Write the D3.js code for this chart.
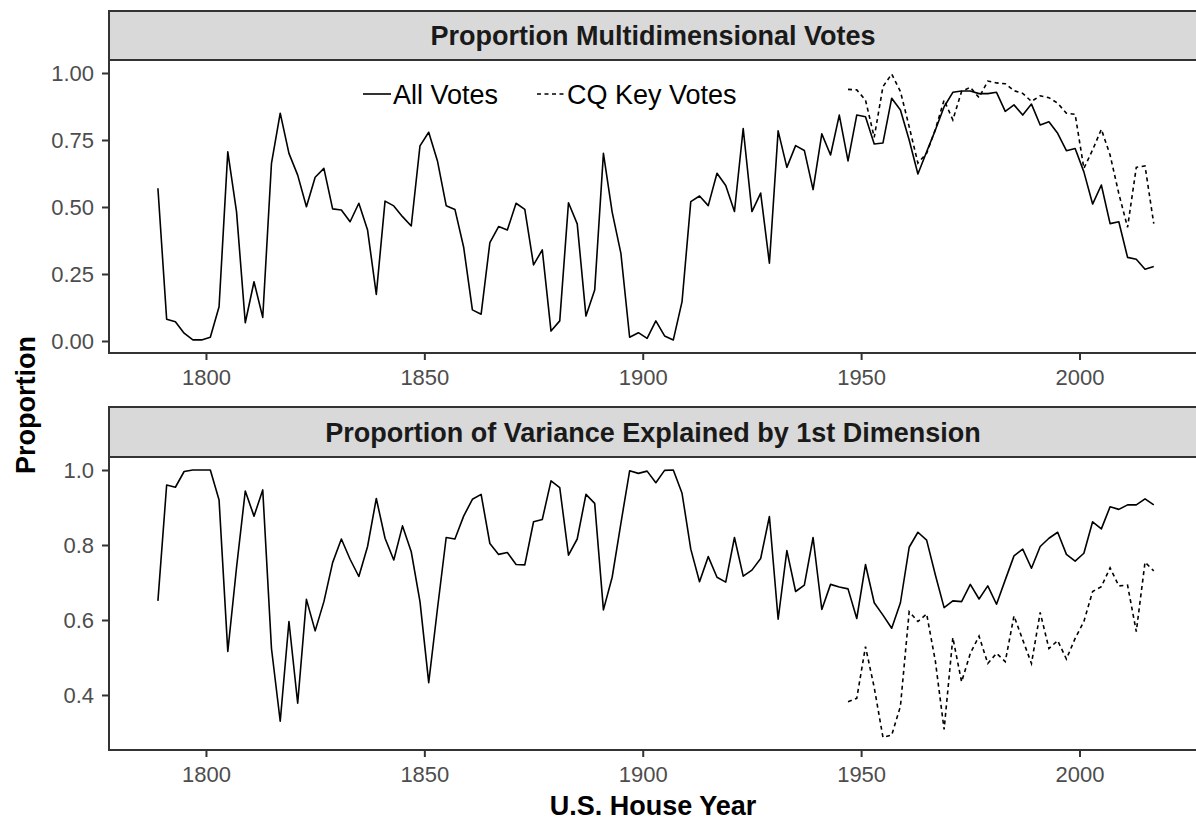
<!DOCTYPE html>
<html><head><meta charset="utf-8">
<script src="https://cdn.jsdelivr.net/npm/d3@7"></script>
<style>
html,body{margin:0;padding:0;background:#fff;}
svg{display:block;font-family:"Liberation Sans",Arial,Helvetica,sans-serif;}
</style></head>
<body><svg id="chart" width="1196" height="821"></svg>
<script>
// ---------------- data ----------------
const allYears = [
 1789,1791,1793,1795,1797,1799,1801,1803,1805,1807,
 1809,1811,1813,1815,1817,1819,1821,1823,1825,1827,
 1829,1831,1833,1835,1837,1839,1841,1843,1845,1847,
 1849,1851,1853,1855,1857,1859,1861,1863,1865,1867,
 1869,1871,1873,1875,1877,1879,1881,1883,1885,1887,
 1889,1891,1893,1895,1897,1899,1901,1903,1905,1907,
 1909,1911,1913,1915,1917,1919,1921,1923,1925,1927,
 1929,1931,1933,1935,1937,1939,1941,1943,1945,1947,
 1949,1951,1953,1955,1957,1959,1961,1963,1965,1967,
 1969,1971,1973,1975,1977,1979,1981,1983,1985,1987,
 1989,1991,1993,1995,1997,1999,2001,2003,2005,2007,
 2009,2011,2013,2015,2017];
const multidimAll = [
 0.570,0.081,0.072,0.029,0.004,0.004,0.014,0.128,0.706,0.482,
 0.068,0.221,0.088,0.663,0.850,0.700,0.619,0.501,0.611,0.644,
 0.493,0.489,0.445,0.514,0.414,0.174,0.522,0.504,0.464,0.429,
 0.728,0.779,0.672,0.505,0.491,0.350,0.116,0.100,0.367,0.427,
 0.414,0.514,0.491,0.284,0.340,0.037,0.075,0.516,0.437,0.093,
 0.190,0.700,0.481,0.327,0.014,0.031,0.010,0.075,0.019,0.004,
 0.147,0.520,0.541,0.505,0.626,0.580,0.483,0.793,0.483,0.552,
 0.290,0.784,0.648,0.729,0.711,0.565,0.773,0.694,0.843,0.672,
 0.843,0.837,0.735,0.739,0.906,0.862,0.750,0.623,0.706,0.787,
 0.874,0.928,0.933,0.933,0.923,0.923,0.928,0.857,0.881,0.843,
 0.884,0.806,0.818,0.775,0.710,0.718,0.631,0.511,0.582,0.438,
 0.445,0.312,0.305,0.268,0.278];
const varianceAll = [
 0.651,0.960,0.954,0.996,1.000,1.000,1.000,0.920,0.516,0.740,
 0.944,0.877,0.947,0.524,0.330,0.596,0.378,0.655,0.571,0.649,
 0.753,0.816,0.762,0.716,0.796,0.924,0.818,0.760,0.851,0.782,
 0.649,0.433,0.630,0.820,0.816,0.877,0.922,0.935,0.804,0.775,
 0.780,0.748,0.747,0.862,0.868,0.971,0.953,0.773,0.816,0.935,
 0.911,0.627,0.714,0.858,0.998,0.991,0.997,0.966,0.999,1.000,
 0.938,0.789,0.702,0.769,0.714,0.701,0.820,0.717,0.733,0.764,
 0.876,0.602,0.785,0.676,0.693,0.820,0.628,0.695,0.688,0.683,
 0.604,0.748,0.646,0.613,0.578,0.646,0.794,0.834,0.813,0.720,
 0.633,0.651,0.649,0.695,0.656,0.691,0.642,0.707,0.771,0.789,
 0.738,0.796,0.818,0.834,0.775,0.757,0.778,0.862,0.843,0.902,
 0.895,0.907,0.907,0.923,0.907];
const cqYears = [
 1947,1949,1951,1953,1955,1957,1959,1961,1963,1965,
 1967,1969,1971,1973,1975,1977,1979,1981,1983,1985,
 1987,1989,1991,1993,1995,1997,1999,2001,2003,2005,
 2007,2009,2011,2013,2015,2017];
const multidimCQ = [
 0.939,0.937,0.899,0.760,0.949,0.996,0.931,0.800,0.664,0.700,
 0.790,0.899,0.825,0.931,0.947,0.908,0.970,0.963,0.960,0.934,
 0.924,0.894,0.915,0.908,0.887,0.850,0.846,0.644,0.713,0.790,
 0.694,0.550,0.424,0.648,0.653,0.438];
const varianceCQ = [
 0.382,0.391,0.529,0.420,0.287,0.293,0.370,0.622,0.596,0.616,
 0.490,0.308,0.553,0.435,0.511,0.557,0.484,0.511,0.489,0.611,
 0.547,0.484,0.620,0.524,0.545,0.496,0.551,0.596,0.676,0.689,
 0.739,0.691,0.693,0.569,0.754,0.731];

const xTicks = [1800, 1850, 1900, 1950, 2000];
const topTicks = [0, 0.25, 0.5, 0.75, 1.0];
const topTickLabels = ["0.00", "0.25", "0.50", "0.75", "1.00"];
const bottomTicks = [0.4, 0.6, 0.8, 1.0];
const bottomTickLabels = ["0.4", "0.6", "0.8", "1.0"];
const panelTitles = ["Proportion Multidimensional Votes", "Proportion of Variance Explained by 1st Dimension"];
const seriesNames = ["All Votes", "CQ Key Votes"];
const xTitle = "U.S. House Year";
const yTitle = "Proportion";

// ---------------- layout ----------------
const svg = d3.select("#chart");
const X0 = 109, X1 = 1197;
const panels = [
  {stripTop: 11, top: 60, bottom: 353, domain: [-0.0448, 1.0485], ticks: topTicks, labels: topTickLabels,
   all: multidimAll, cq: multidimCQ, title: panelTitles[0]},
  {stripTop: 407, top: 457, bottom: 750, domain: [0.2533, 1.0347], ticks: bottomTicks, labels: bottomTickLabels,
   all: varianceAll, cq: varianceCQ, title: panelTitles[1]}
];
const x = d3.scaleLinear().domain([1777.8, 2026.9]).range([X0, X1]);
const border = "#333333";

panels.forEach((p, i) => {
  const y = d3.scaleLinear().domain(p.domain).range([p.bottom, p.top]);
  const g = svg.append("g");
  const clipId = "clip" + i;
  svg.append("clipPath").attr("id", clipId).append("rect")
    .attr("x", X0).attr("y", p.top).attr("width", X1 - X0).attr("height", p.bottom - p.top);

  // strip
  g.append("rect").attr("x", X0).attr("y", p.stripTop).attr("width", X1 - X0).attr("height", p.top - p.stripTop)
    .attr("fill", "#D9D9D9").attr("stroke", border).attr("stroke-width", 2);
  g.append("text").attr("x", (X0 + X1) / 2).attr("y", (p.stripTop + p.top) / 2 + 9.6)
    .attr("text-anchor", "middle").attr("font-size", 27).attr("font-weight", "bold").attr("fill", "#1A1A1A")
    .text(p.title);

  // lines
  const line = d3.line().x(d => x(d[0])).y(d => y(d[1]));
  const lg = g.append("g").attr("clip-path", `url(#${clipId})`);
  lg.append("path").datum(allYears.map((yr, k) => [yr, p.all[k]]))
    .attr("d", line).attr("fill", "none").attr("stroke", "#000").attr("stroke-width", 1.6)
    .attr("stroke-linejoin", "round");
  lg.append("path").datum(cqYears.map((yr, k) => [yr, p.cq[k]]))
    .attr("d", line).attr("fill", "none").attr("stroke", "#000").attr("stroke-width", 1.6)
    .attr("stroke-dasharray", "4,3.5");

  // axes
  const ax = g.append("g").attr("transform", `translate(0,${p.bottom})`)
    .call(d3.axisBottom(x).tickValues(xTicks).tickFormat(d3.format("d")).tickSize(7).tickPadding(9));
  const ay = g.append("g").attr("transform", `translate(${X0},0)`)
    .call(d3.axisLeft(y).tickValues(p.ticks).tickFormat((d, k) => p.labels[k]).tickSize(7).tickPadding(8));
  [ax, ay].forEach(a => {
    a.select(".domain").remove();
    a.selectAll(".tick line").attr("stroke", border).attr("stroke-width", 2);
    a.selectAll(".tick text").attr("fill", "#4D4D4D").attr("font-size", 22)
      .attr("font-family", "Liberation Sans, Arial, sans-serif");
  });

  // panel border
  g.append("rect").attr("x", X0).attr("y", p.top).attr("width", X1 - X0).attr("height", p.bottom - p.top)
    .attr("fill", "none").attr("stroke", border).attr("stroke-width", 2);
});

// legend (inside top panel)
const leg = svg.append("g");
const legY = 94;
const legItems = [
  {name: seriesNames[0], x0: 363, dash: null},
  {name: seriesNames[1], x0: 537, dash: "4,3.5"}
];
legItems.forEach(it => {
  leg.append("line").attr("x1", it.x0).attr("x2", it.x0 + 28).attr("y1", legY).attr("y2", legY)
    .attr("stroke", "#000").attr("stroke-width", 1.6).attr("stroke-dasharray", it.dash);
  leg.append("text").attr("x", it.x0 + 30).attr("y", legY + 9.5).attr("font-size", 27).attr("fill", "#000")
    .text(it.name);
});

// axis titles
svg.append("text").attr("x", (X0 + X1) / 2).attr("y", 815).attr("text-anchor", "middle")
  .attr("font-size", 27).attr("font-weight", "bold").attr("fill", "#000").text(xTitle);
svg.append("text").attr("transform", `translate(35,405) rotate(-90)`).attr("text-anchor", "middle")
  .attr("font-size", 27).attr("font-weight", "bold").attr("fill", "#000").text(yTitle);
</script>
</body></html>
